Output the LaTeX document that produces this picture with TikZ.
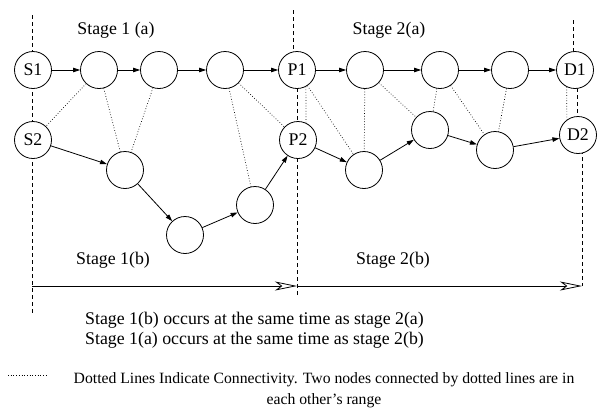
\documentclass[tikz,border=0pt]{standalone}
\usepackage{fontspec}
\setmainfont{Liberation Serif}
\usetikzlibrary{arrows.meta}

\begin{document}
\begin{tikzpicture}[
    x=1pt, y=-1pt,
    station/.style={circle, draw, fill=white, line width=0.8pt, minimum size=37pt, inner sep=0pt, font=\fontsize{17.8}{20}\selectfont},
    caption/.style={font=\fontsize{17.8}{19.5}\selectfont, align=center, inner sep=0pt},
    legend/.style={font=\fontsize{15.7}{20.5}\selectfont, align=center, inner sep=0pt},
    link/.style={-{Triangle[length=7pt,width=4.5pt]}, line width=0.8pt},
    reach/.style={dotted, line width=0.7pt},
    border/.style={dash pattern=on 4pt off 3pt, line width=0.7pt},
    timeline/.style={-{Stealth[open,length=22pt,width=9pt,inset=6pt]}, line width=0.8pt}
]
\useasboundingbox (0,0) rectangle (597,408);

% Stage borders
\draw[border] (32,15) -- (32,313);
\draw[border] (293,10) -- (293,52);
\draw[border] (297,88) -- (297,297);
\draw[border] (573,20) -- (573,52);
\draw[border] (577,88) -- (577,117);
\draw[border] (582,150) -- (582,286);

% Upper path
\node[station] (s1) at (33,70) {S1};
\node[station] (a1) at (99,70) {};
\node[station] (a2) at (159,70) {};
\node[station] (a3) at (225,70) {};
\node[station] (p1) at (297,70) {P1};
\node[station] (a4) at (365,70) {};
\node[station] (a5) at (440,70) {};
\node[station] (a6) at (510,70) {};
\node[station] (d1) at (575,70) {D1};

% Lower path
\node[station] (s2) at (33,140) {S2};
\node[station] (b1) at (125,170) {};
\node[station] (b2) at (185,235) {};
\node[station] (b3) at (255,205) {};
\node[station] (p2) at (298,140) {P2};
\node[station] (b4) at (364,170) {};
\node[station] (b5) at (430,130) {};
\node[station] (b6) at (495,150) {};
\node[station] (d2) at (578,135) {D2};

% Arrows
\draw[link] (s1) -- (a1);
\draw[link] (a1) -- (a2);
\draw[link] (a2) -- (a3);
\draw[link] (a3) -- (p1);
\draw[link] (p1) -- (a4);
\draw[link] (a4) -- (a5);
\draw[link] (a5) -- (a6);
\draw[link] (a6) -- (d1);
\draw[link] (s2) -- (b1);
\draw[link] (b1) -- (b2);
\draw[link] (b2) -- (b3);
\draw[link] (b3) -- (p2);
\draw[link] (p2) -- (b4);
\draw[link] (b4) -- (b5);
\draw[link] (b5) -- (b6);
\draw[link] (b6) -- (d2);

% Connectivity
\draw[reach] (a1) -- (s2);
\draw[reach] (a1) -- (b1);
\draw[reach] (a2) -- (b1);
\draw[reach] (a3) -- (b3);
\draw[reach] (a3) -- (p2);
\draw[reach] (p1.-62) -- (p2.65);
\draw[reach] (p1) -- (b4);
\draw[reach] (a4) -- (b4);
\draw[reach] (a4) -- (b5);
\draw[reach] (a5) -- (b5);
\draw[reach] (a5) -- (b6);
\draw[reach] (a6) -- (b6);
\draw[reach] (d1.244) -- (d2.126);

% Stage labels
\node[caption] (stage1a) at (116,30) {Stage 1 (a)};
\node[caption] (stage2a) at (389,30) {Stage 2(a)};
\node[caption] (stage1b) at (113,260) {Stage 1(b)};
\node[caption] (stage2b) at (393,260) {Stage 2(b)};

% Time line
\coordinate (t0) at (32,286);
\coordinate (t1) at (297,286);
\coordinate (t2) at (582,286);
\draw[timeline] (t0) -- (t1);
\draw[timeline] (t1) -- (t2);

% Notes
\node[caption] (note) at (254.5,330) {Stage 1(b) occurs at the same time as stage 2(a)\\Stage 1(a) occurs at the same time as stage 2(b)};
\coordinate (key_start) at (8,375);
\coordinate (key_end) at (48,375);
\draw[reach] (key_start) -- (key_end);
\node[legend] (key_text) at (324,390) {Dotted Lines Indicate Connectivity. Two nodes connected by dotted lines are in\\each other's range};

\end{tikzpicture}
\end{document}
